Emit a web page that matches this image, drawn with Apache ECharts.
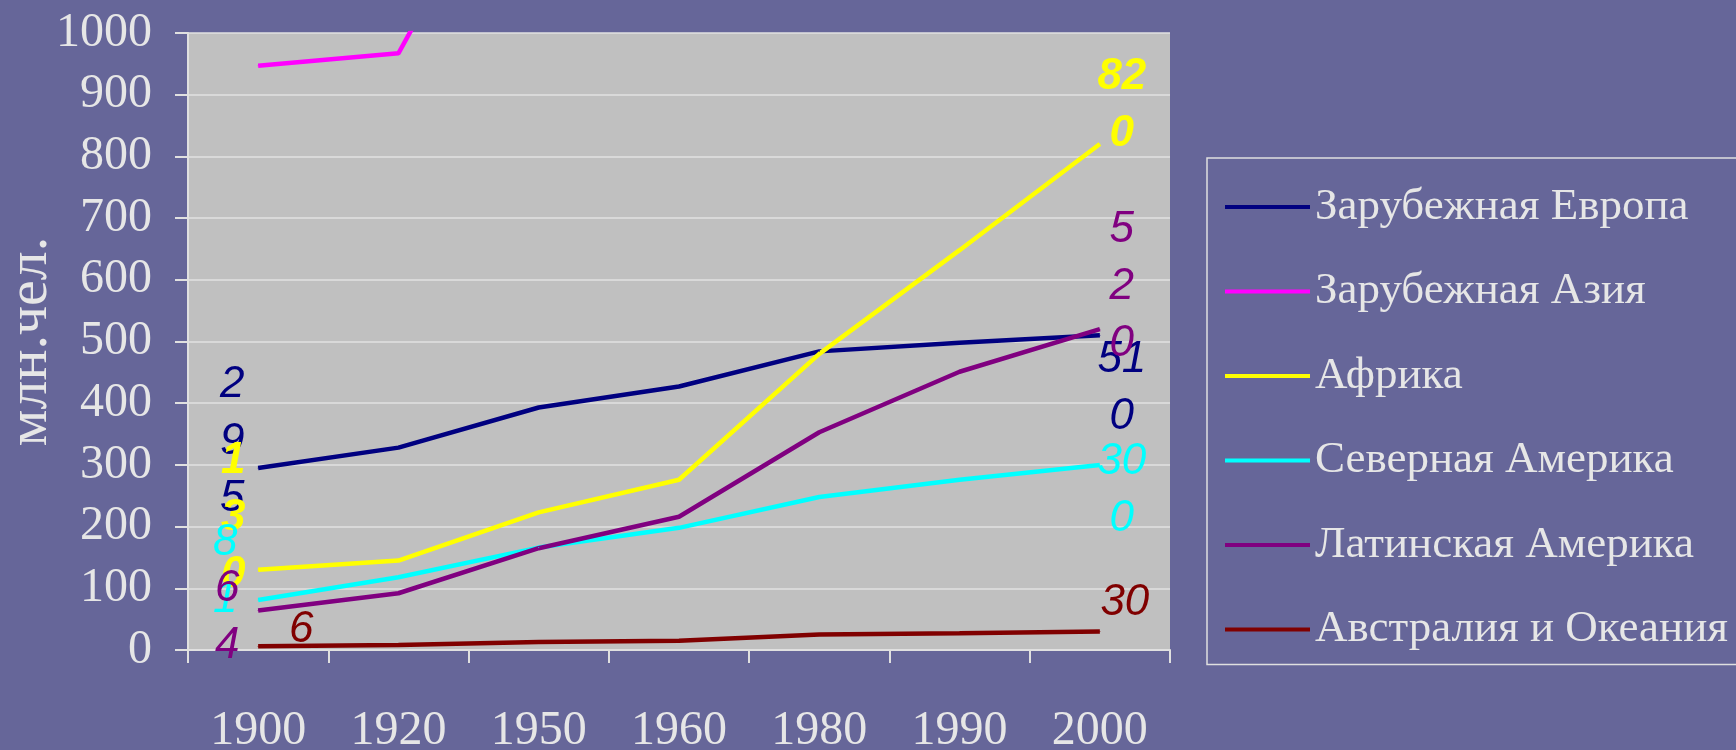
<!DOCTYPE html>
<html style="height: 100%">
<head>
<meta charset="utf-8">
<script src="https://cdn.jsdelivr.net/npm/echarts@6/dist/echarts.min.js"></script>
</head>
<body style="height: 100%; margin: 0; background: #666699">
<div id="container" style="width: 1736px; height: 750px"></div>
<script type="text/javascript">
// годы и численность населения, млн. чел.
var years = ['1900', '1920', '1950', '1960', '1980', '1990', '2000'];
var europe = [295, 328, 393, 427, 484, 498, 510];
var asia = [947, 967, 1380, 1680, 2600, 3100, 3700];
var africa = [130, 145, 223, 276, 480, 648, 820];
var northAmerica = [81, 118, 166, 198, 248, 276, 300];
var latinAmerica = [64, 92, 165, 216, 353, 451, 520];
var oceania = [6, 8, 13, 15, 25, 27, 30];

var regionNames = ['Зарубежная Европа', 'Зарубежная Азия', 'Африка',
  'Северная Америка', 'Латинская Америка', 'Австралия и Океания'];
var regionValues = [europe, asia, africa, northAmerica, latinAmerica, oceania];
var regionColors = ['#000080', '#ff00ff', '#ffff00', '#00ffff', '#800080', '#800000'];

// подписи: смещения у первой и последней точки, сколько цифр в строке
var firstOffset = [[-26, -26], null, [-25, -52], [-33, -29], [-31, 7], [43, -17]];
var lastOffset = [[22, 53], null, [22, -39], [22, 25], [22, -42], [25, -29]];
var lastChunk = [2, 0, 2, 2, 1, 2];

var serif = 'Liberation Serif, Times New Roman, serif';
var sans = 'Liberation Sans, Arial, sans-serif';
var lightText = '#e6e6e6';

function stackDigits(v, n) {
  var s = String(v), out = [];
  for (var i = 0; i < s.length; i += n) out.push(s.slice(i, i + n));
  return out.join('\n');
}

function labelFor(idx, v, offset, chunk) {
  return {
    show: true,
    position: 'inside',
    align: 'center',
    verticalAlign: 'middle',
    offset: offset,
    formatter: stackDigits(v, chunk),
    color: regionColors[idx],
    fontFamily: sans,
    fontStyle: 'italic',
    fontWeight: idx === 2 ? 'bold' : 'normal',
    fontSize: 44,
    lineHeight: 57
  };
}

var series = regionNames.map(function (name, idx) {
  var vals = regionValues[idx];
  var data = vals.map(function (v, i) {
    if (i === 0 && firstOffset[idx]) {
      return { value: v, label: labelFor(idx, v, firstOffset[idx], 1) };
    }
    if (i === vals.length - 1 && lastOffset[idx]) {
      return { value: v, label: labelFor(idx, v, lastOffset[idx], lastChunk[idx]) };
    }
    return v;
  });
  return {
    name: name,
    type: 'line',
    data: data,
    symbol: 'circle',
    symbolSize: 1,
    showSymbol: true,
    clip: true,
    itemStyle: { color: regionColors[idx] },
    lineStyle: { color: regionColors[idx], width: 4.5 },
    emphasis: { disabled: true },
    label: { show: false },
    z: 2
  };
});

var myChart = echarts.init(document.getElementById('container'));
var option = {
  backgroundColor: '#666699',
  animation: false,
  grid: {
    left: 188,
    top: 33,
    width: 982,
    height: 617,
    outerBoundsMode: 'none',
    containLabel: false,
    show: true,
    backgroundColor: '#c0c0c0',
    borderWidth: 0
  },
  legend: {
    orient: 'vertical',
    left: 1207,
    top: 158,
    icon: 'rect',
    itemWidth: 85,
    itemHeight: 4,
    itemGap: 38.5,
    itemTextGap: 6,
    padding: [26, 30, 12, 18],
    borderColor: '#e0e0e0',
    borderWidth: 1.5,
    selectedMode: false,
    textStyle: { fontFamily: serif, fontSize: 45, lineHeight: 46, color: lightText },
    data: regionNames
  },
  xAxis: {
    type: 'category',
    data: years,
    boundaryGap: true,
    axisLine: { lineStyle: { color: '#e0e0e0', width: 2 } },
    axisTick: { show: true, interval: 0, length: 13, lineStyle: { color: '#e0e0e0', width: 2 } },
    axisLabel: { margin: 57, fontFamily: serif, fontSize: 48, color: lightText }
  },
  yAxis: {
    type: 'value',
    min: 0,
    max: 1000,
    interval: 100,
    name: 'млн.чел.',
    nameLocation: 'middle',
    nameRotate: 90,
    nameGap: 128,
    nameMoveOverlap: false,
    nameTextStyle: { fontFamily: serif, fontSize: 58, color: lightText },
    axisLine: { show: true, lineStyle: { color: '#e0e0e0', width: 2 } },
    axisTick: { show: true, length: 13, lineStyle: { color: '#e0e0e0', width: 2 } },
    axisLabel: {
      margin: 36, fontFamily: serif, fontSize: 48, color: lightText,
      formatter: function (v) { return String(v); }
    },
    splitLine: { lineStyle: { color: '#e2e2e2', width: 1.5 } }
  },
  series: series
};
myChart.setOption(option);
</script>
</body>
</html>
